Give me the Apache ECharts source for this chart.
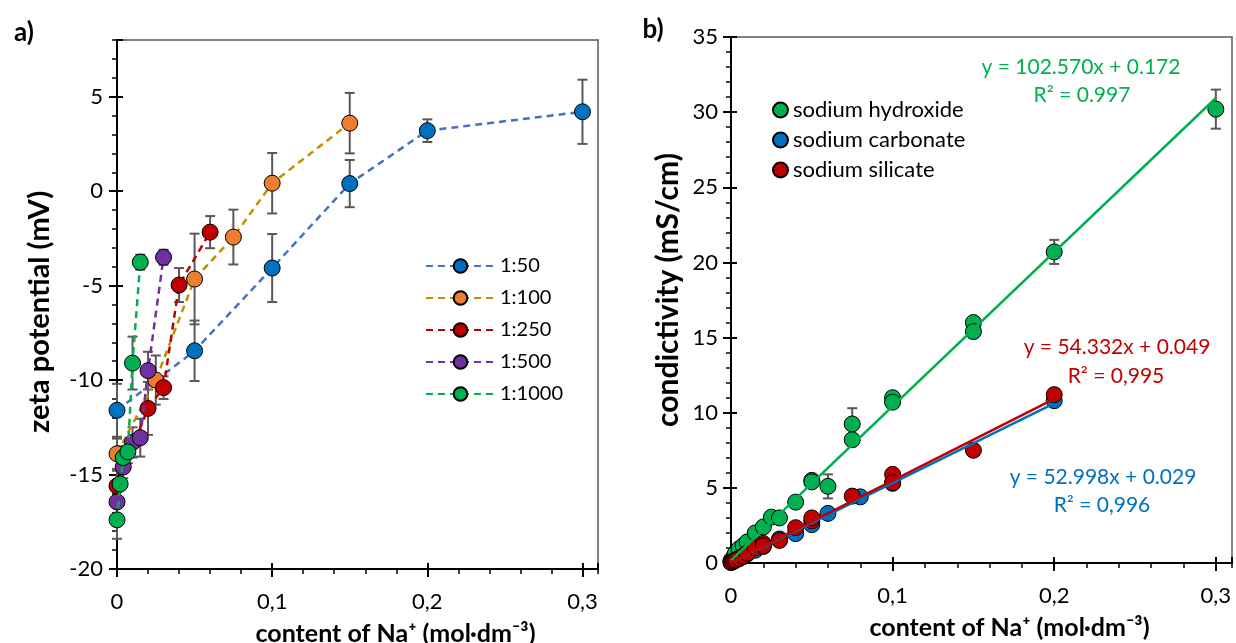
<!DOCTYPE html>
<html>
<head>
<meta charset="utf-8">
<script src="https://cdn.jsdelivr.net/npm/echarts@6/dist/echarts.min.js"></script>
<style>
  html, body { margin: 0; padding: 0; background: #fff; }
  #chart { width: 1236px; height: 643px; }
</style>
</head>
<body>
<div id="chart"></div>
<script>
// a) zeta potential vs Na+ content, per dilution ratio
var ratios = ['1:50', '1:100', '1:250', '1:500', '1:1000'];

var x50 = [0, 0.05, 0.1, 0.15, 0.2, 0.3];
var zeta50 = [-11.6, -8.45, -4.07, 0.4, 3.2, 4.2];
var err50 = [1.4, 1.6, 1.8, 1.25, 0.6, 1.7];

var x100 = [0, 0.025, 0.05, 0.075, 0.1, 0.15];
var zeta100 = [-13.9, -10.0, -4.65, -2.43, 0.42, 3.6];
var err100 = [0.8, 1.3, 2.4, 1.45, 1.6, 1.6];

var x250 = [0, 0.02, 0.03, 0.04, 0.06];
var zeta250 = [-15.6, -11.5, -10.4, -4.97, -2.17];
var err250 = [0.8, 1.4, 0.6, 0.9, 0.85];

var x500 = [0, 0.004, 0.01, 0.015, 0.02, 0.03];
var zeta500 = [-16.45, -14.6, -13.3, -13.05, -9.5, -3.5];
var err500 = [0.8, 0.6, 0.8, 1.0, 1.0, 0.4];

var x1000 = [0, 0.002, 0.004, 0.007, 0.01, 0.015];
var zeta1000 = [-17.4, -15.5, -14.1, -13.8, -9.1, -3.76];
var err1000 = [1.0, 0.8, 0.6, 0.6, 1.4, 0.4];

// b) conductivity vs Na+ content
var salts = ['sodium hydroxide', 'sodium carbonate', 'sodium silicate'];

var naohX = [0, 0.001, 0.0025, 0.005, 0.0075, 0.01, 0.015, 0.02, 0.025, 0.03, 0.04, 0.05, 0.05, 0.06, 0.075, 0.075, 0.1, 0.1, 0.15, 0.15, 0.2, 0.3];
var naohY = [0.15, 0.3, 0.6, 0.95, 1.15, 1.4, 2.0, 2.4, 3.05, 3.0, 4.05, 5.5, 5.4, 5.1, 9.25, 8.2, 11.0, 10.7, 16.0, 15.4, 20.7, 30.2];
var naohErr = [0, 0, 0, 0, 0, 0, 0, 0, 0, 0, 0, 0, 0, 0.8, 1.05, 0, 0, 0, 0, 0.4, 0.8, 1.3];

var carbX = [0, 0.001, 0.002, 0.005, 0.0075, 0.01, 0.015, 0.02, 0.03, 0.04, 0.05, 0.06, 0.08, 0.1, 0.2];
var carbY = [0.03, 0.08, 0.13, 0.3, 0.42, 0.6, 0.85, 1.1, 1.6, 1.95, 2.55, 3.3, 4.4, 5.3, 10.8];

var silX = [0, 0.001, 0.002, 0.003, 0.005, 0.0075, 0.01, 0.015, 0.02, 0.02, 0.03, 0.04, 0.05, 0.05, 0.075, 0.1, 0.1, 0.15, 0.2];
var silY = [0.05, 0.1, 0.15, 0.2, 0.3, 0.45, 0.65, 1.0, 1.3, 1.15, 1.5, 2.35, 2.8, 3.0, 4.45, 5.9, 5.35, 7.5, 11.2];
var silErr = [0, 0, 0, 0, 0, 0, 0, 0, 0, 0, 0, 0, 0, 0, 0, 0, 0, 0, 0.4];

// trend lines: [slope, intercept, last x]
var naohFit = [102.570, 0.172, 0.3];
var carbFit = [52.998, 0.029, 0.2];
var silFit = [54.332, 0.049, 0.2];

var FONT = 'Lato, "DejaVu Sans", sans-serif';
var lineColors = ['#4472C4', '#BF9000', '#C00000', '#7030A0', '#00B050'];
var dotColors = ['#0070C0', '#ED7D31', '#C00000', '#7030A0', '#00B050'];
var saltColors = ['#00B050', '#0070C0', '#C00000'];

function pairs(xs, ys) {
    return xs.map(function (x, i) { return [x, ys[i]]; });
}
function triples(xs, ys, es) {
    return xs.map(function (x, i) { return [x, ys[i], es[i]]; });
}
function fitLine(f) {
    return [[0, f[1]], [f[2], f[0] * f[2] + f[1]]];
}
function xFmt(v) {
    var r = Math.round(v * 10) / 10;
    if (Math.abs(v - r) > 1e-9) return '';
    return String(r).replace('.', ',');
}

// three stacked axes per side: labels + outer major ticks, inner major ticks, minor ticks
function makeAxes(grid, pos, min, max, major, minor, fmt, showMax, nm) {
    var base = {
        type: 'value', gridIndex: grid, position: pos, min: min, max: max,
        splitLine: { show: false }
    };
    var a = Object.assign({}, base, {
        interval: major,
        name: nm.text, nameLocation: 'middle', nameGap: nm.gap,
        nameTextStyle: { fontFamily: FONT, fontWeight: 'bold', fontSize: nm.size, color: '#000', padding: nm.pad },
        axisLine: { show: true, onZero: false, lineStyle: { color: '#000', width: 2 } },
        axisTick: { show: true, inside: false, length: 8, lineStyle: { color: '#000', width: 2 } },
        axisLabel: { formatter: fmt, showMaxLabel: showMax, margin: nm.margin, fontFamily: FONT, fontSize: 22, color: '#000' }
    });
    var b = Object.assign({}, base, {
        interval: major,
        axisLine: { show: false, onZero: false },
        axisTick: { show: true, inside: true, length: 6, lineStyle: { color: '#000', width: 2 } },
        axisLabel: { show: false }
    });
    var c = Object.assign({}, base, {
        interval: minor,
        axisLine: { show: false, onZero: false },
        axisTick: { show: true, inside: false, length: 5, lineStyle: { color: '#000', width: 1.5 } },
        axisLabel: { show: false }
    });
    return [a, b, c];
}

function errorBars(data, xi, yi) {
    return {
        type: 'custom', xAxisIndex: xi, yAxisIndex: yi, z: 1, silent: true,
        data: data,
        renderItem: function (params, api) {
            var x = api.value(0), y = api.value(1), e = api.value(2);
            if (!e) return null;
            var t = api.coord([x, y + e]), b = api.coord([x, y - e]);
            var st = { stroke: '#595959', lineWidth: 2 };
            return {
                type: 'group', children: [
                    { type: 'line', shape: { x1: t[0], y1: t[1], x2: b[0], y2: b[1] }, style: st },
                    { type: 'line', shape: { x1: t[0] - 5, y1: t[1], x2: t[0] + 5, y2: t[1] }, style: st },
                    { type: 'line', shape: { x1: b[0] - 5, y1: b[1], x2: b[0] + 5, y2: b[1] }, style: st }
                ]
            };
        }
    };
}

var leftX = [x50, x100, x250, x500, x1000];
var leftY = [zeta50, zeta100, zeta250, zeta500, zeta1000];
var leftE = [err50, err100, err250, err500, err1000];

var series = [];
ratios.forEach(function (r, i) {
    series.push(errorBars(triples(leftX[i], leftY[i], leftE[i]), 0, 0));
});
ratios.forEach(function (r, i) {
    series.push({
        name: r, type: 'line', xAxisIndex: 0, yAxisIndex: 0, z: 2 + i,
        data: pairs(leftX[i], leftY[i]),
        symbol: 'circle', symbolSize: 16, showSymbol: true,
        lineStyle: { color: lineColors[i], width: 2.5, type: [7, 5] },
        itemStyle: { color: dotColors[i], borderColor: '#000', borderWidth: 1 }
    });
});

series.push(errorBars(triples(naohX, naohY, naohErr), 3, 3));
series.push(errorBars(triples(silX, silY, silErr), 3, 3));
var rightX = [naohX, carbX, silX];
var rightY = [naohY, carbY, silY];
var fits = [naohFit, carbFit, silFit];
salts.forEach(function (s, i) {
    series.push({
        name: s, type: 'scatter', xAxisIndex: 3, yAxisIndex: 3, z: 2 + i,
        data: pairs(rightX[i], rightY[i]),
        symbol: 'circle', symbolSize: 16,
        itemStyle: { color: saltColors[i], borderColor: '#000', borderWidth: 1, opacity: 1 }
    });
});
salts.forEach(function (s, i) {
    series.push({
        type: 'line', xAxisIndex: 3, yAxisIndex: 3, z: 6 + i, silent: true,
        data: fitLine(fits[i]), showSymbol: false,
        lineStyle: { color: saltColors[i], width: 2.5 }
    });
});

function label(text, x, y, color, size, bold, rot) {
    return {
        type: 'text', x: x, y: y, z: 50, rotation: rot || 0,
        style: {
            text: text, fill: color, font: (bold ? 'bold ' : '') + size + 'px ' + FONT,
            align: 'center', verticalAlign: 'middle'
        }
    };
}

var xName = 'content of Na⁺ (mol·dm⁻³)';

var chart = echarts.init(document.getElementById('chart'));
var option = {
    animation: false,
    backgroundColor: '#fff',
    grid: [
        { left: 117, top: 40, width: 481, height: 529, show: true, borderColor: '#595959', borderWidth: 1.5, outerBoundsMode: 'none' },
        { left: 731, top: 37, width: 501, height: 526, show: true, borderColor: '#595959', borderWidth: 1.5, outerBoundsMode: 'none' }
    ],
    xAxis: [].concat(
        makeAxes(0, 'bottom', 0, 0.31, 0.1, 0.02, xFmt, false,
            { text: xName, gap: 52, size: 25, pad: [0, 0, 0, 76], margin: 22 }),
        makeAxes(1, 'bottom', 0, 0.31, 0.1, 0.02, xFmt, false,
            { text: xName, gap: 52, size: 25, pad: [0, 0, 0, 56], margin: 22 })
    ),
    yAxis: [].concat(
        makeAxes(0, 'left', -20, 8, 5, 1, null, false, { text: '', gap: 0, size: 1, pad: 0, margin: 14 }),
        makeAxes(1, 'left', 0, 35, 5, 1, null, true, { text: '', gap: 0, size: 1, pad: 0, margin: 13 })
    ),
    legend: [
        {
            data: ratios, orient: 'vertical', left: 420, top: 251,
            itemWidth: 69, itemHeight: 17, itemGap: 12,
            textStyle: { fontFamily: FONT, fontSize: 20, color: '#000' }
        },
        {
            data: salts, orient: 'vertical', left: 767, top: 94,
            itemWidth: 15, itemHeight: 15, itemGap: 8, icon: 'circle',
            textStyle: { fontFamily: FONT, fontSize: 22, color: '#000' }
        }
    ],
    graphic: [
        label('a)', 24, 33, '#000', 26, true),
        label('b)', 653, 30, '#000', 26, true),
        label('zeta potential (mV)', 40, 312, '#000', 29, true, Math.PI / 2),
        label('condictivity (mS/cm)', 668, 290, '#000', 30, true, Math.PI / 2),
        label('y = 102.570x + 0.172', 1081, 67, '#00B050', 21),
        label('R² = 0.997', 1082, 95, '#00B050', 21),
        label('y = 54.332x + 0.049', 1117, 347, '#C00000', 21),
        label('R² = 0,995', 1116, 376, '#C00000', 21),
        label('y = 52.998x + 0.029', 1103, 477, '#0070C0', 21),
        label('R² = 0,996', 1102, 505, '#0070C0', 21)
    ],
    series: series
};
chart.setOption(option);
</script>
</body>
</html>
